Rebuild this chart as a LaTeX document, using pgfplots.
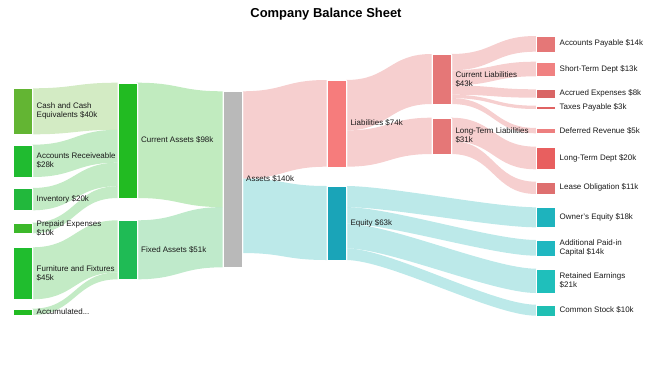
\documentclass[border=0pt]{standalone}
\usepackage{pgfplots}
\pgfplotsset{compat=1.18}
\usepackage{fontspec}
\setmainfont{Liberation Sans}
\usetikzlibrary{shadows}

\definecolor{txt}{HTML}{1A1A1A}
% node colours
\definecolor{cCash}{HTML}{63B533}
\definecolor{cAR}{HTML}{20BB30}
\definecolor{cInv}{HTML}{22B83C}
\definecolor{cPre}{HTML}{3CB82A}
\definecolor{cFur}{HTML}{20BD2E}
\definecolor{cAcc}{HTML}{22BB22}
\definecolor{cCA}{HTML}{22BB22}
\definecolor{cFA}{HTML}{1FBB55}
\definecolor{cAss}{HTML}{B9B9B9}
\definecolor{cLia}{HTML}{F67C7C}
\definecolor{cEq}{HTML}{1AA4B8}
\definecolor{cCL}{HTML}{E57777}
\definecolor{cLTL}{HTML}{E57777}
\definecolor{cAP}{HTML}{E57777}
\definecolor{cSTD}{HTML}{F08181}
\definecolor{cAE}{HTML}{D96565}
\definecolor{cTP}{HTML}{E06363}
\definecolor{cDR}{HTML}{ED7F7F}
\definecolor{cLTD}{HTML}{E85F5F}
\definecolor{cLO}{HTML}{DE6F6F}
\definecolor{cOE}{HTML}{1EB3BD}
\definecolor{cAPIC}{HTML}{1FB7C0}
\definecolor{cRE}{HTML}{1FBFBB}
\definecolor{cCS}{HTML}{1FBFB3}
% link colours (drawn at opacity 0.7)
\definecolor{lCash}{HTML}{C0E2AB}
\definecolor{lGreen}{HTML}{A9E2AC}
\definecolor{lCA}{HTML}{A6E2A4}
\definecolor{lFA}{HTML}{A4E1B5}
\definecolor{lPink}{HTML}{F2BABA}
\definecolor{lCyan}{HTML}{9FE0E0}

% link: x1, a1, b1 (source slot), x2, a2, b2 (target slot), colour
\newcommand{\link}[7]{%
  \fill[#7, opacity=0.7] (axis cs:#1,#2) .. controls +(43bp,0) and +(-43bp,0) .. (axis cs:#4,#5)
    -- (axis cs:#4,#6) .. controls +(-43bp,0) and +(43bp,0) .. (axis cs:#1,#3) -- cycle;}
% node: x1, y1, x2, y2, colour
\newcommand{\nd}[5]{%
  \addplot[fill=#5, draw=white, line width=0.3pt,
    drop shadow={shadow xshift=1pt, shadow yshift=-1pt, fill=black, opacity=0.25}]
    coordinates {(#1,#2) (#3,#2) (#3,#4) (#1,#4)} --cycle;}
\newcommand{\lab}[3]{%
  \node[anchor=west, align=left, text=txt, inner sep=0pt,
    font=\fontsize{8}{9}\selectfont] at (axis cs:#1,#2) {#3};}

\begin{document}
\begin{tikzpicture}
\begin{axis}[
  scale only axis, width=650bp, height=366bp,
  xmin=0, xmax=650, ymin=0, ymax=366, y dir=reverse,
  axis lines=none, clip=false]
\path (axis cs:0,0) rectangle (axis cs:650,366);

% ---- links (column 1 -> column 2)
\link{32.3}{88.3}{134.3}{117.7}{82.7}{129.8}{lCash}
\link{32.3}{144.7}{177}{117.7}{129.8}{162.7}{lGreen}
\link{32.3}{188}{210.3}{117.7}{162.7}{186.2}{lGreen}
\link{32.3}{222.7}{233.3}{117.7}{186.2}{198}{lGreen}
\link{32.3}{247.3}{299.3}{117.7}{220.3}{272.4}{lGreen}
\link{32.3}{308.7}{315}{117.7}{272.4}{279.3}{lGreen}
% ---- column 2 -> Assets
\link{136.7}{82.7}{198}{222.7}{91.3}{207.1}{lCA}
\link{136.7}{220.3}{279.3}{222.7}{207.1}{267.3}{lFA}
% ---- Assets -> Liabilities / Equity
\link{241.7}{91.3}{178.6}{326.7}{80}{166.7}{lPink}
\link{241.7}{178.6}{253}{326.7}{186}{260}{lCyan}
% ---- Liabilities -> column 5
\link{346}{80}{130.4}{431.7}{54}{104}{lPink}
\link{346}{130.4}{166.7}{431.7}{117.7}{154}{lPink}
% ---- column 5 -> column 6
\link{451}{54}{70.3}{536}{36}{51.7}{lPink}
\link{451}{70.3}{85.4}{536}{61.7}{76.3}{lPink}
\link{451}{85.4}{94.7}{536}{89.3}{97.7}{lPink}
\link{451}{94.7}{98.1}{536}{105.7}{109}{lPink}
\link{451}{98.1}{104}{536}{128}{133.3}{lPink}
\link{451}{117.7}{141.1}{536}{146.7}{169.3}{lPink}
\link{451}{141.1}{154}{536}{181.7}{194}{lPink}
% ---- Equity -> column 6
\link{346}{186}{207.1}{536}{207.3}{227.3}{lCyan}
\link{346}{207.1}{223.6}{536}{240}{255.7}{lCyan}
\link{346}{223.6}{248.3}{536}{268.7}{293}{lCyan}
\link{346}{248.3}{260}{536}{304.7}{315.7}{lCyan}

% ---- nodes
\nd{13.3}{88.3}{32.3}{134.3}{cCash}
\nd{13.3}{144.7}{32.3}{177}{cAR}
\nd{13.3}{188}{32.3}{210.3}{cInv}
\nd{13.3}{222.7}{32.3}{233.3}{cPre}
\nd{13.3}{247.3}{32.3}{299.3}{cFur}
\nd{13.3}{308.7}{32.3}{315}{cAcc}
\nd{117.7}{82.7}{136.7}{198}{cCA}
\nd{117.7}{220.3}{136.7}{279.3}{cFA}
\nd{222.7}{91.3}{241.7}{267.3}{cAss}
\nd{326.7}{80}{346}{166.7}{cLia}
\nd{326.7}{186}{346}{260}{cEq}
\nd{431.7}{54}{451}{104}{cCL}
\nd{431.7}{117.7}{451}{154}{cLTL}
\nd{536}{36}{555.3}{51.7}{cAP}
\nd{536}{61.7}{555.3}{76.3}{cSTD}
\nd{536}{89.3}{555.3}{97.7}{cAE}
\nd{536}{105.7}{555.3}{109}{cTP}
\nd{536}{128}{555.3}{133.3}{cDR}
\nd{536}{146.7}{555.3}{169.3}{cLTD}
\nd{536}{181.7}{555.3}{194}{cLO}
\nd{536}{207.3}{555.3}{227.3}{cOE}
\nd{536}{240}{555.3}{255.7}{cAPIC}
\nd{536}{268.7}{555.3}{293}{cRE}
\nd{536}{304.7}{555.3}{315.7}{cCS}

% ---- labels
\lab{36.5}{111.3}{Cash and Cash\\Equivalents \$40k}
\lab{36.5}{160.8}{Accounts Receiveable\\\$28k}
\lab{36.5}{199.2}{Inventory \$20k}
\lab{36.5}{228}{Prepaid Expenses\\\$10k}
\lab{36.5}{273.3}{Furniture and Fixtures\\\$45k}
\lab{36.5}{312}{Accumulated...}
\lab{141}{140.3}{Current Assets \$98k}
\lab{141}{249.8}{Fixed Assets \$51k}
\lab{246}{179.3}{Assets \$140k}
\lab{350.3}{123.3}{Liabilities \$74k}
\lab{350.3}{223}{Equity \$63k}
\lab{455.3}{79}{Current Liabilities\\\$43k}
\lab{455.3}{135.8}{Long-Term Liabilities\\\$31k}
\lab{559.5}{43.8}{Accounts Payable \$14k}
\lab{559.5}{69}{Short-Term Dept \$13k}
\lab{559.5}{93.5}{Accrued Expenses \$8k}
\lab{559.5}{107.4}{Taxes Payable \$3k}
\lab{559.5}{130.7}{Deferred Revenue \$5k}
\lab{559.5}{158}{Long-Term Dept \$20k}
\lab{559.5}{187.8}{Lease Obligation \$11k}
\lab{559.5}{217.3}{Owner's Equity \$18k}
\lab{559.5}{247.8}{Additional Paid-in\\Capital \$14k}
\lab{559.5}{280.8}{Retained Earnings\\\$21k}
\lab{559.5}{310.2}{Common Stock \$10k}

% ---- title
\node[text=black, font=\fontsize{13}{15}\bfseries\selectfont] at (axis cs:326,14.5) {Company Balance Sheet};
\end{axis}
\end{tikzpicture}
\end{document}
